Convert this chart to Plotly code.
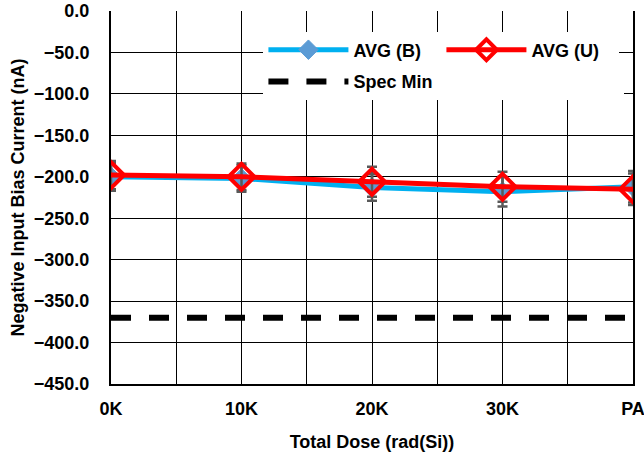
import plotly.graph_objects as go

categories = ["0K", "10K", "20K", "30K", "PA"]
x_pos = [0, 1, 2, 3, 4]
avg_b = [-200, -202, -213, -218, -212]
avg_b_err = [17, 16, 16, 18, 19]
avg_u = [-198, -200, -206, -212, -215]
avg_u_err = [17, 16, 18, 18, 19]
spec_min = [-370, -370, -370, -370, -370]

FONT = "Liberation Sans, Arial, sans-serif"
FS = 18

fig = go.Figure()
fig.add_trace(go.Scatter(
    x=x_pos, y=avg_b, name="AVG (B)", mode="lines+markers", legend="legend",
    line=dict(color="#00B0F0", width=5),
    marker=dict(symbol="diamond", size=15, color="#5B9BD5", line=dict(color="#5B9BD5", width=1)),
    error_y=dict(type="data", array=avg_b_err, color="#595959", thickness=2.5, width=5),
))
fig.add_trace(go.Scatter(
    x=x_pos, y=avg_u, name="AVG (U)", mode="lines+markers", legend="legend",
    line=dict(color="#FF0000", width=5),
    marker=dict(symbol="diamond-open", size=20, color="#FF0000", line=dict(color="#FF0000", width=4)),
    error_y=dict(type="data", array=avg_u_err, color="#595959", thickness=2.5, width=5),
))
fig.add_trace(go.Scatter(
    x=x_pos, y=spec_min, name="Spec Min", mode="lines", legend="legend2",
    line=dict(color="#000000", width=6, dash="20px,18px"),
))

tickvals = [i * 0.5 for i in range(9)]
ticktext = [categories[int(v)] if v == int(v) else "" for v in tickvals]

legend_font = dict(family=FONT, size=FS, color="black", weight="bold")

fig.update_layout(
    width=644, height=460,
    margin=dict(l=111, r=11, t=11, b=76, autoexpand=False),
    paper_bgcolor="white", plot_bgcolor="white",
    font=dict(family=FONT, size=FS, color="black"),
    showlegend=True,
    legend=dict(
        orientation="h", x=0.292, y=0.945, xanchor="left", yanchor="top",
        bgcolor="white", entrywidth=83, entrywidthmode="pixels",
        itemwidth=80, font=legend_font,
    ),
    legend2=dict(
        orientation="h", x=0.292, y=0.86, xanchor="left", yanchor="top",
        bgcolor="white", entrywidth=266, entrywidthmode="pixels",
        itemwidth=80, font=legend_font,
    ),
    xaxis=dict(
        range=[0, 4], tickmode="array", tickvals=tickvals, ticktext=ticktext,
        showgrid=True, gridcolor="black", gridwidth=1,
        showline=True, linecolor="black", linewidth=2, mirror=False,
        zeroline=False, ticks="", automargin=False, ticklabeloverflow="allow",
        ticklabelstandoff=7,
        tickfont=dict(family=FONT, size=FS, weight="bold"),
        title=dict(text="Total Dose (rad(Si))", font=dict(family=FONT, size=FS, weight="bold"), standoff=18),
    ),
    yaxis=dict(
        range=[-450, 0], dtick=50, tickformat=".1f",
        showgrid=True, gridcolor="black", gridwidth=1,
        showline=True, linecolor="black", linewidth=2, mirror=True,
        zeroline=False, ticks="", automargin=False,
        ticklabelstandoff=16,
        tickfont=dict(family=FONT, size=FS, weight="bold"),
        title=dict(text="Negative Input Bias Current (nA)", font=dict(family=FONT, size=FS, weight="bold"), standoff=5),
    ),
)

fig.write_html("out.html", config={"displayModeBar": False},
               post_script="document.body.style.margin='0';")
